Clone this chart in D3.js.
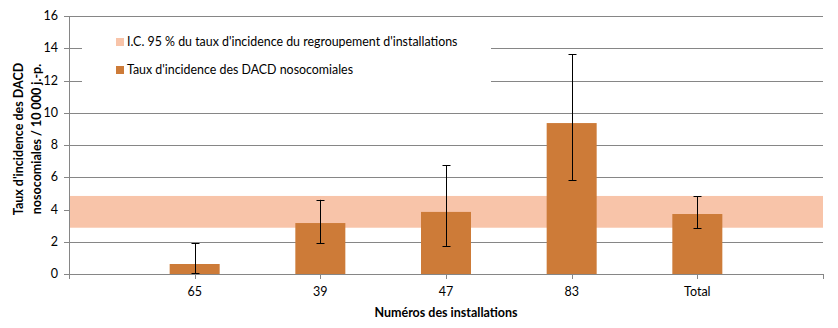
<!DOCTYPE html>
<html><head><meta charset="utf-8">
<script src="https://cdn.jsdelivr.net/npm/d3@7"></script>
<style>body{margin:0;background:#fff}svg{display:block;font-family:Lato,"Open Sans",sans-serif}</style>
</head><body><svg id="c" width="838" height="328"></svg>
<script>
const categories = ["65", "39", "47", "83", "Total"];
const rates = [0.62, 3.16, 3.85, 9.36, 3.72];
const ciLow = [0.04, 1.9, 1.74, 5.81, 2.83];
const ciHigh = [1.9, 4.6, 6.76, 13.62, 4.82];
const bandRange = [2.87, 4.84];
const yTicks = [0, 2, 4, 6, 8, 10, 12, 14, 16];
const legendLabels = ["I.C. 95 % du taux d'incidence du regroupement d'installations", "Taux d'incidence des DACD nosocomiales"];

const svg = d3.select("#c");
const L = 69, R = 823, T = 16, B = 274;
const slots = ["_s", ...categories, "_e"];
const x = d3.scalePoint().domain(slots).range([L, R]).padding(0);
const y = d3.scaleLinear().domain([0, 16]).range([B, T]);
const gridC = "#868686", barC = "#CD7B38", bandC = "#F8C4A9";

// gridlines
svg.append("g").selectAll("line").data(yTicks.filter(d => d > 0)).join("line")
  .attr("x1", L - 5).attr("x2", R).attr("y1", d => Math.round(y(d)) + 0.5).attr("y2", d => Math.round(y(d)) + 0.5)
  .attr("stroke", gridC).attr("stroke-width", 1);

// band (over gridlines)
svg.append("rect").attr("x", L + 1).attr("width", R - L - 1)
  .attr("y", y(bandRange[1])).attr("height", y(bandRange[0]) - y(bandRange[1])).attr("fill", bandC);

// bars
const bw = 50;
svg.append("g").selectAll("rect").data(categories).join("rect")
  .attr("x", d => x(d) - bw / 2).attr("width", bw)
  .attr("y", (d, i) => y(rates[i])).attr("height", (d, i) => B - y(rates[i]))
  .attr("fill", barC);

// error bars
const eg = svg.append("g").attr("stroke", "#000").attr("stroke-width", 1);
categories.forEach((c, i) => {
  const cx = Math.round(x(c)) + 0.5;
  eg.append("line").attr("x1", cx).attr("x2", cx).attr("y1", y(ciHigh[i])).attr("y2", y(ciLow[i]));
  [ciHigh[i], ciLow[i]].forEach(v => {
    eg.append("line").attr("x1", cx - 4).attr("x2", cx + 4).attr("y1", Math.round(y(v)) + 0.5).attr("y2", Math.round(y(v)) + 0.5);
  });
});

// legend box (covers gridlines)
svg.append("rect").attr("x", 82).attr("y", 26).attr("width", 409).attr("height", 66).attr("fill", "#fff");
const lg = svg.append("g");
[bandC, barC].forEach((col, i) => {
  const cy = 42 + i * 28;
  lg.append("rect").attr("x", 116).attr("y", cy - 4).attr("width", 8).attr("height", 8).attr("fill", col);
  lg.append("text").attr("x", 127).attr("y", cy + 4).attr("font-size", 12.4).attr("fill", "#000").text(legendLabels[i]);
});

// axes lines
svg.append("line").attr("x1", L + 0.5).attr("x2", L + 0.5).attr("y1", T).attr("y2", B).attr("stroke", gridC);
svg.append("line").attr("x1", L - 5).attr("x2", R).attr("y1", B + 0.5).attr("y2", B + 0.5).attr("stroke", gridC);
svg.append("g").selectAll("line").data(slots).join("line")
  .attr("x1", d => Math.round(x(d)) + 0.5).attr("x2", d => Math.round(x(d)) + 0.5)
  .attr("y1", B).attr("y2", B + 5).attr("stroke", gridC);

// y tick labels
svg.append("g").selectAll("text").data(yTicks).join("text")
  .attr("x", 58).attr("y", d => y(d) + 4).attr("text-anchor", "end")
  .attr("font-size", 12.5).attr("fill", "#000").text(d => d);

// x labels
svg.append("g").selectAll("text").data(categories).join("text")
  .attr("x", d => x(d)).attr("y", 296).attr("text-anchor", "middle")
  .attr("font-size", 12.5).attr("fill", "#000").text(d => d);

// titles
svg.append("text").attr("x", 446).attr("y", 317).attr("text-anchor", "middle")
  .attr("font-size", 12.5).attr("font-weight", "bold").text("Numéros des installations");
const yt = svg.append("text").attr("transform", "translate(0,139) rotate(-90)")
  .attr("text-anchor", "middle").attr("font-size", 12.5).attr("font-weight", "bold");
yt.append("tspan").attr("x", 0).attr("y", 23).text("Taux d'incidence des DACD");
yt.append("tspan").attr("x", 0).attr("y", 41).text("nosocomiales / 10 000 j.-p.");
</script></body></html>
